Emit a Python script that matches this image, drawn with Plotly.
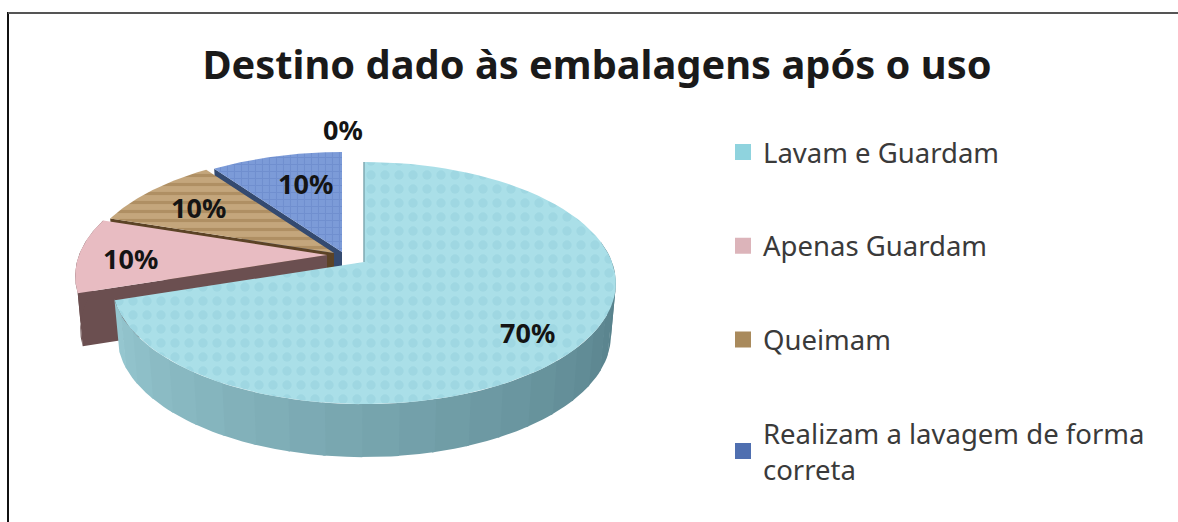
import numpy as np
import plotly.graph_objects as go

# ---- data ----
categories = ["Lavam e Guardam", "Apenas Guardam", "Queimam", "Realizam a lavagem de forma<br>correta", ""]
values = [70, 10, 10, 10, 0]

# ---- style ----
top_colors = ["#aadfe8", "#e8bcc2", "#b08c5e", "#6f8fcf"]
legend_colors = ["#8fd3de", "#dcb4ba", "#a98a5c", "#4f6fb0"]
wall_colors = ["#6f9fa9", "#6b4f50", "#5c4326", "#344a70"]
patterns = [
    dict(shape=".", fgcolor="#93cfdb", bgcolor="#aadfe8", size=14, solidity=0.35),
    None,
    dict(shape="-", fgcolor="#9a784a", bgcolor="#c4a67c", size=9, solidity=0.35),
    dict(shape="+", fgcolor="#6484c6", bgcolor="#7c9bd8", size=7, solidity=0.3),
]
tips = [(364, 262), (327, 255), (334, 253), (342, 252)]
B, A, K = 248.0, 117.4, 0.174   # perspective projection of the unit disc
DEPTH, SHRINK = 53.0, 0.98


def project(theta, tip, r=1.0):
    u, v = r * np.sin(theta), r * np.cos(theta)
    den = 1 + K * v
    return tip[0] + u * B / den, tip[1] - v * A / den


# slice angles from the values, clockwise from 12 o'clock
fracs = np.array(values, float) / sum(values)
ends = np.cumsum(fracs) * 2 * np.pi
starts = ends - fracs * 2 * np.pi

fig = go.Figure()


def poly(xs, ys, color, pattern=None, width=0, lc=None):
    fig.add_trace(go.Scatter(x=list(xs), y=list(ys), mode="lines", fill="toself",
                             fillcolor=color, fillpattern=pattern,
                             line=dict(width=width, color=lc or color),
                             showlegend=False, hoverinfo="skip"))


# draw back to front: blue, brown, pink, cyan
for i in [3, 2, 1, 0]:
    t0, t1 = starts[i], ends[i]
    tip = tips[i]
    th = np.linspace(t0, t1, 80)
    x, y = project(th, tip)
    if i > 0:
        # cut face along the slice's first edge
        cx, cy = project(t0, tip)
        bx = tip[0] + (cx - tip[0]) * SHRINK
        poly([tip[0], cx, bx, tip[0]], [tip[1], cy, cy + DEPTH, tip[1] + DEPTH], wall_colors[i])
        if i == 1:
            # visible outer wall of the pink slice
            xb = tip[0] + (x - tip[0]) * SHRINK
            yb = y + DEPTH
            poly(np.r_[x, xb[::-1]], np.r_[y, yb[::-1]], wall_colors[i])
    else:
        # outer wall of the big slice, shaded from dark (right) to light (left)
        seg = np.linspace(np.radians(80), t1, 25)
        c0, c1 = np.array([0x4f, 0x78, 0x82]), np.array([0x95, 0xc6, 0xcf])
        for j in range(len(seg) - 1):
            a = np.linspace(seg[j], seg[j + 1] + 0.01, 6)
            xs, ys = project(a, tip)
            xb = tip[0] + (xs - tip[0]) * SHRINK
            yb = ys + DEPTH
            mix = j / (len(seg) - 2)
            rgb = (c0 + (c1 - c0) * mix).astype(int)
            poly(np.r_[xs, xb[::-1]], np.r_[ys, yb[::-1]], f"rgb({rgb[0]},{rgb[1]},{rgb[2]})")
    poly(np.r_[tip[0], x, tip[0]], np.r_[tip[1], y, tip[1]], top_colors[i], patterns[i])
    if i == 0:
        # thin edge along the back cut of the big slice
        ex, ey = project(t0, tip)
        fig.add_trace(go.Scatter(x=[tip[0], ex], y=[tip[1], ey], mode="lines",
                                 line=dict(width=1.5, color="#7fa9b2"),
                                 showlegend=False, hoverinfo="skip"))

# legend entries
for i in range(4):
    fig.add_trace(go.Scatter(x=[None], y=[None], mode="markers", name=categories[i],
                             marker=dict(symbol="square", size=16, color=legend_colors[i]),
                             legendgroup=str(i), hoverinfo="skip"))

label_pos = [(527, 332), (130, 258), (198, 207), (305, 183), (343, 129)]
for v, (lx, ly) in zip(values, label_pos):
    fig.add_annotation(x=lx, y=ly, text=f"<b>{v}%</b>", showarrow=False,
                       font=dict(family="Noto Sans", size=27, color="#141414"))

fig.update_layout(
    width=1178, height=522, margin=dict(l=0, r=0, t=0, b=0),
    paper_bgcolor="white", plot_bgcolor="white",
    xaxis=dict(range=[0, 1178], visible=False, fixedrange=True),
    yaxis=dict(range=[522, 0], visible=False, fixedrange=True),
    title=dict(text="<b>Destino dado às embalagens após o uso</b>", x=597 / 1178, xanchor="center",
               y=1 - 65 / 522, yanchor="middle",
               font=dict(family="Noto Sans", size=39.8, color="#1a1a1a")),
    legend=dict(x=723 / 1178, y=1 - 127.5 / 522, xanchor="left", yanchor="top",
                tracegroupgap=55, bgcolor="rgba(0,0,0,0)",
                font=dict(family="Noto Sans", size=27.5, color="#3a3a3a")),
    shapes=[
        dict(type="line", xref="paper", yref="paper", x0=8 / 1178, x1=8 / 1178, y0=0, y1=1 - 12 / 522,
             line=dict(color="#111111", width=2)),
        dict(type="line", xref="paper", yref="paper", x0=8 / 1178, x1=1, y0=1 - 13 / 522, y1=1 - 13 / 522,
             line=dict(color="#555555", width=2)),
    ],
)

fig.write_html("out.html", config={"displayModeBar": False},
               post_script="document.body.style.margin='0';")
